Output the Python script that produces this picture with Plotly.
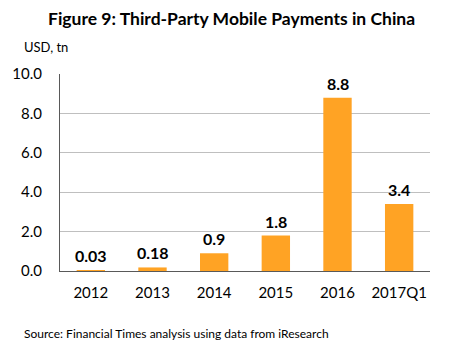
import plotly.graph_objects as go

categories = ["2012", "2013", "2014", "2015", "2016", "2017Q1"]
values = [0.03, 0.18, 0.9, 1.8, 8.8, 3.4]
labels = ["0.03", "0.18", "0.9", "1.8", "8.8", "3.4"]
y_ticks = [0, 2, 4, 6, 8, 10]
y_tick_labels = ["0.0", "2.0", "4.0", "6.0", "8.0", "10.0"]

FONT = "Lato"

fig = go.Figure()
fig.add_trace(go.Bar(x=categories, y=values, marker=dict(color="#FFA324", line=dict(width=0)),
                     hoverinfo="skip"))

for i, (v, t) in enumerate(zip(values, labels)):
    fig.add_annotation(x=i, y=v, text="<b>%s</b>" % t, showarrow=False, yanchor="bottom",
                       yshift=3, font=dict(family=FONT, size=16, color="#000000"))

fig.add_annotation(text="<b>Figure 9: Third-Party Mobile Payments in China</b>", xref="paper", yref="paper",
                   x=0.5, xanchor="center", xshift=-14, y=1, yanchor="middle", yshift=56, showarrow=False,
                   font=dict(family=FONT, size=17.5, color="#000000"))
fig.add_annotation(text="USD, tn", xref="paper", yref="paper", x=0, xanchor="left", xshift=-38,
                   y=1, yanchor="middle", yshift=27, showarrow=False,
                   font=dict(family=FONT, size=13, color="#000000"))
fig.add_annotation(text="Source: Financial Times analysis using data from iResearch", xref="paper", yref="paper",
                   x=0, xanchor="left", xshift=-38, y=0, yanchor="middle", yshift=-62, showarrow=False,
                   font=dict(family=FONT, size=12, color="#000000"))

fig.update_layout(
    width=452, height=351,
    margin=dict(l=51, r=22, t=74, b=80),
    paper_bgcolor="white", plot_bgcolor="white",
    bargap=0.54, showlegend=False,
    font=dict(family=FONT, color="#000000"),
)
fig.update_xaxes(type="category", range=[-0.5, len(categories) - 0.5], showline=True, linecolor="#595959",
                 linewidth=1, ticks="", showgrid=False,
                 tickfont=dict(family=FONT, size=15), ticklabelstandoff=8)
fig.update_yaxes(range=[0, 10], tickvals=y_ticks, ticktext=y_tick_labels, showgrid=True,
                 gridcolor="#BFBFBF", gridwidth=1, showline=True, linecolor="#595959", linewidth=1,
                 zeroline=False, tickfont=dict(family=FONT, size=15), ticklabelstandoff=14)

fig.write_html("out.html")
